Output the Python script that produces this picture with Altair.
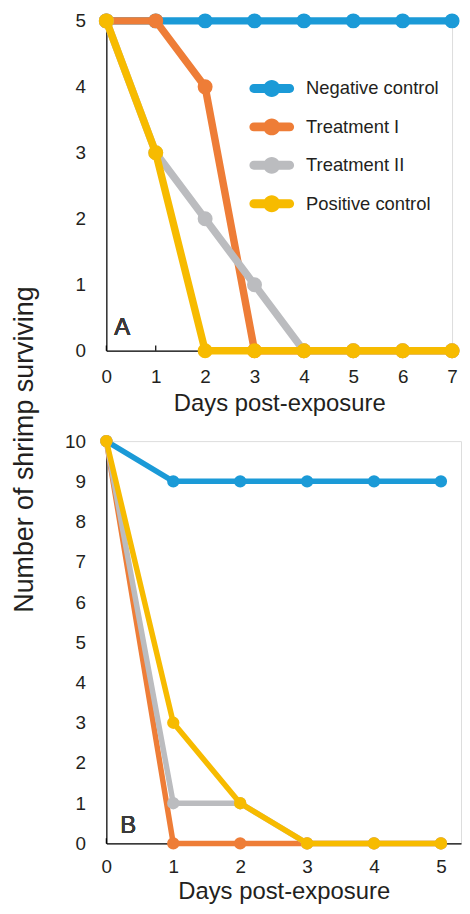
import altair as alt
import pandas as pd

# ---- data ----
series_names = ["Negative control", "Treatment I", "Treatment II", "Positive control"]
series_colors = ["#1b9ad7", "#ee7d37", "#bbbcbf", "#f7bb00"]

days_a = [0, 1, 2, 3, 4, 5, 6, 7]
neg_a = [5, 5, 5, 5, 5, 5, 5, 5]
t1_a = [5, 5, 4, 0, 0, 0, 0, 0]
t2_a = [5, 3, 2, 1, 0, 0, 0, 0]
pos_a = [5, 3, 0, 0, 0, 0, 0, 0]

days_b = [0, 1, 2, 3, 4, 5]
neg_b = [10, 9, 9, 9, 9, 9]
t1_b = [10, 0, 0, 0, 0, 0]
t2_b = [10, 1, 1, 0, 0, 0]
pos_b = [10, 3, 1, 0, 0, 0]

ticks_a = [0, 1, 2, 3, 4, 5, 6, 7]
ticks_b_y = [0, 1, 2, 3, 4, 5, 6, 7, 8, 9, 10]
ticks_b_x = [0, 1, 2, 3, 4, 5]

FONT = "Liberation Sans"
TXT = "#231f20"


def long_df(days, cols):
    rows = []
    for name, vals in zip(series_names, cols):
        for d, v in zip(days, vals):
            rows.append({"day": d, "value": v, "series": name})
    return pd.DataFrame(rows)


df_a = long_df(days_a, [neg_a, t1_a, t2_a, pos_a])
df_b = long_df(days_b, [neg_b, t1_b, t2_b, pos_b])

legend_path = ("M-3.05,-0.45L0.55,-0.45A0.45,0.45 0 0 1 0.55,0.45L-3.05,0.45"
               "A0.45,0.45 0 0 1 -3.05,-0.45Z "
               "M-0.4,0A0.85,0.85 0 1 1 -2.1,0A0.85,0.85 0 1 1 -0.4,0Z")

color_scale = alt.Scale(domain=series_names, range=series_colors)
legend = alt.Legend(
    title=None, orient="none", legendX=169, legendY=58, padding=0,
    symbolType=legend_path, symbolSize=400, symbolStrokeWidth=0,
    labelFont=FONT, labelFontSize=18.5, labelColor=TXT, labelOffset=12,
    rowPadding=18.7,
)


def panel(df, days, xdom, ydom, xticks, yticks, w, h, lw, ps, tick_len,
          letter, letter_xy, lab_pad_x, title_pad_x, with_legend, ytitle):
    xs = alt.X("day:Q", scale=alt.Scale(domain=xdom, nice=False, zero=False),
               axis=alt.Axis(values=xticks, format="d", ticks=False, grid=False,
                             domainColor="black", domainWidth=1.2,
                             labelFont=FONT, labelFontSize=19, labelColor=TXT,
                             labelPadding=lab_pad_x, labelOverlap=False,
                             title="Days post-exposure",
                             titleFont=FONT, titleFontSize=24, titleFontWeight="normal",
                             titleColor=TXT, titlePadding=title_pad_x, labelFlush=False))
    yaxis_kwargs = dict(values=yticks, format="d", ticks=False, grid=False,
                        domainColor="black", domainWidth=1.2,
                        labelFont=FONT, labelFontSize=19, labelColor=TXT,
                        labelPadding=21, labelOverlap=False)
    if ytitle:
        yaxis_kwargs.update(title="Number of shrimp surviving", titleFont=FONT,
                            titleFontSize=27, titleFontWeight="normal",
                            titleColor=TXT, titleX=-68, titleY=8)
    else:
        yaxis_kwargs.update(title=None)
    ys = alt.Y("value:Q", scale=alt.Scale(domain=ydom, nice=False),
               axis=alt.Axis(**yaxis_kwargs))

    base = alt.Chart(df)
    tick_df = pd.DataFrame({"day": days})
    tick_layer = alt.Chart(tick_df).mark_rule(color="black", strokeWidth=1.2).encode(
        x=xs, y=alt.datum(0), y2=alt.datum(tick_len))
    layers = [tick_layer]
    for name, col in zip(series_names, series_colors):
        sub = base.transform_filter(alt.datum.series == name)
        line = sub.mark_line(strokeWidth=lw, color=col, strokeCap="round",
                             strokeJoin="round").encode(x=xs, y=ys)
        if with_legend:
            pts = sub.mark_point(filled=True, size=ps, opacity=1).encode(
                x=xs, y=ys,
                color=alt.Color("series:N", scale=color_scale, legend=legend))
        else:
            pts = sub.mark_point(filled=True, size=ps, opacity=1, color=col).encode(
                x=xs, y=ys)
        layers += [line, pts]
    txt = alt.Chart(tick_df).mark_text(text=letter, font=FONT, fontSize=24,
                                       fontWeight="normal", color="#3a3a3a",
                                       align="center", baseline="middle").encode(
        x=alt.value(letter_xy[0]), y=alt.value(letter_xy[1]))
    layers.append(txt)
    return alt.layer(*layers).properties(width=w, height=h)


panel_a = panel(df_a, ticks_a, [0, 7], [0, 5], ticks_a, [0, 1, 2, 3, 4, 5],
                348, 332, 7.5, 227, 0.08, "A", (16, 309), 17, 5, True, False)
panel_b = panel(df_b, ticks_b_x, [0, 5.3], [0, 10], ticks_b_x, ticks_b_y,
                357, 405, 5.5, 154, 0.13, "B", (22, 387), 14, 3, False, True)

chart = alt.vconcat(panel_a, panel_b, spacing=91, bounds="flush").properties(
    padding={"left": 2, "top": 0, "right": 0, "bottom": 0}
).configure_view(stroke=None).configure(background="white")

chart.save("out.html", embed_options={"renderer": "svg", "actions": False})
